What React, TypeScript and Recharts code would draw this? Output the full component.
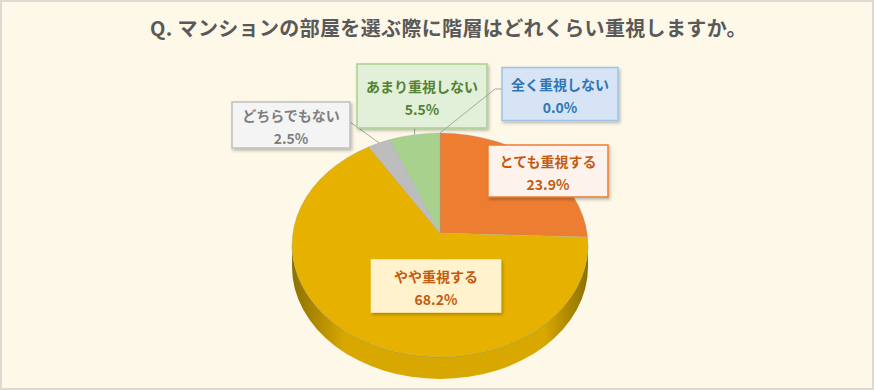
import React from "react";
import { PieChart, Pie } from "recharts";

const TITLE = "Q. マンションの部屋を選ぶ際に階層はどれくらい重視しますか。";
const categories = ["とても重視する", "やや重視する", "どちらでもない", "あまり重視しない", "全く重視しない"];
const shares = [23.9, 68.2, 2.5, 5.5, 0.0];

const data = categories.map((name, i) => ({ name, value: shares[i] }));

// geometry of the tilted pie
const W = 874;
const H = 390;
const CX = 440;
const CY = 245;
const RX = 148;
const RY = 112;
const DEPTH = 22;
const APEX_LIFT = 12;

const topColors = ["#ED7D31", "#E7B100", "#BDBDBD", "#A9D18E", "#5B9BD5"];
const sideEdge = ["#9A4F1C", "#8C7000", "#7A7A7A", "#6E8C5A", "#3B6690"];
const sideMid = ["#D46C26", "#D9A800", "#A8A8A8", "#97BE7C", "#4F8AC0"];

// callout boxes: offset of box centre from the pie centre, size, colours
const boxOffset = [
  [108, -74],
  [-4, 41],
  [-149, -120],
  [-18, -149],
  [120, -151],
];
const boxSize = [
  [120, 52],
  [129, 52],
  [118, 46],
  [130, 64],
  [116, 53],
];
const boxFill = ["#FDF3EC", "#FFF2CC", "#F4F4F4", "#E2F0D9", "#D6E4F5"];
const boxStroke = ["#ED7D31", "#FFF2CC", "#BFBFBF", "#A9D18E", "#9DC3E6"];
const textColor = ["#C55A11", "#C55A11", "#7F7F7F", "#548235", "#2E75B6"];
const hasLeader = [false, false, true, true, true];

const FONT = '"Noto Sans CJK JP", "Noto Sans", sans-serif';

const rad = (a: number) => (a * Math.PI) / 180;
const pt = (cx: number, cy: number, a: number): [number, number] => [
  cx + RX * Math.cos(rad(a)),
  cy - RY * Math.sin(rad(a)),
];

function SliceShape(props: any) {
  const { cx, cy, startAngle, endAngle, index } = props;
  const s = Math.max(startAngle, endAngle);
  const e = Math.min(startAngle, endAngle);
  if (s - e < 0.01) return <g />;
  const parts: React.ReactNode[] = [];

  // side wall for the front half
  const b = Math.min(s, 0);
  const a = Math.max(e, -180);
  if (b > a) {
    const [x1, y1] = pt(cx, cy, b);
    const [x2, y2] = pt(cx, cy, a);
    const d = `M${x1},${y1} A${RX},${RY} 0 0 1 ${x2},${y2} L${x2},${y2 + DEPTH} A${RX},${RY} 0 0 0 ${x1},${y1 + DEPTH} Z`;
    parts.push(<path key="side" d={d} fill={`url(#side${index})`} stroke="none" />);
    parts.push(
      <path
        key="rim"
        d={`M${x1},${y1} A${RX},${RY} 0 0 1 ${x2},${y2}`}
        fill="none"
        stroke={sideEdge[index]}
        strokeOpacity={0.35}
        strokeWidth={1}
      />
    );
  }

  const [sx, sy] = pt(cx, cy, s);
  const [ex, ey] = pt(cx, cy, e);
  const large = s - e > 180 ? 1 : 0;
  const ax = cx;
  const ay = cy - APEX_LIFT;
  parts.push(
    <path
      key="top"
      d={`M${ax},${ay} L${sx},${sy} A${RX},${RY} 0 ${large} 1 ${ex},${ey} Z`}
      fill={topColors[index]}
      stroke="#8FA7BF"
      strokeOpacity={0.45}
      strokeWidth={0.6}
    />
  );
  return <g>{parts}</g>;
}

function Callout(props: any) {
  const { cx, cy, midAngle, index, value, name } = props;
  const [w, h] = boxSize[index];
  const bx = cx + boxOffset[index][0];
  const by = cy + boxOffset[index][1];
  const left = bx - w / 2;
  const right = bx + w / 2;
  const top = by - h / 2;
  const bottom = by + h / 2;

  let leader: React.ReactNode = null;
  if (hasLeader[index]) {
    const [px, py] = pt(cx, cy, midAngle);
    let pts: string;
    if (px > right) {
      pts = `${px},${py} ${right},${by - 3}`;
    } else if (px < left) {
      pts = `${px},${py} ${left - 7},${by - 5} ${left},${by - 5}`;
    } else {
      pts = `${px},${py} ${px},${bottom}`;
    }
    leader = <polyline points={pts} fill="none" stroke="#A6A6A6" strokeWidth={1} />;
  }

  return (
    <g>
      {leader}
      <rect
        x={left}
        y={top}
        width={w}
        height={h}
        fill={boxFill[index]}
        stroke={boxStroke[index]}
        strokeWidth={1.5}
        filter="url(#boxShadow)"
      />
      <text
        x={bx}
        y={by - 10}
        textAnchor="middle"
        dominantBaseline="central"
        fontFamily={FONT}
        fontWeight={700}
        fontSize={14}
        fill={textColor[index]}
      >
        {name}
      </text>
      <text
        x={bx}
        y={by + 13}
        textAnchor="middle"
        dominantBaseline="central"
        fontFamily={FONT}
        fontWeight={700}
        fontSize={14}
        fill={textColor[index]}
      >
        {`${Number(value).toFixed(1)}%`}
      </text>
    </g>
  );
}

export default function App() {
  return (
    <div
      style={{
        position: "absolute",
        left: 0,
        top: 0,
        width: W,
        height: H,
        boxSizing: "border-box",
        border: "2px solid #DEDAD2",
        background: "#FEF8E8",
        overflow: "hidden",
      }}
    >
      <div
        style={{
          position: "absolute",
          left: 0,
          top: 14,
          width: W + 19,
          textAlign: "center",
          fontFamily: FONT,
          fontWeight: 700,
          fontSize: 20,
          letterSpacing: "0.35px",
          lineHeight: "24px",
          color: "#595959",
          whiteSpace: "nowrap",
        }}
      >
        {TITLE}
      </div>
      <div style={{ position: "absolute", left: -2, top: -2 }}>
        <PieChart width={W} height={H} margin={{ top: 0, right: 0, bottom: 0, left: 0 }}>
          <defs>
            {topColors.map((_, i) => (
              <linearGradient
                key={i}
                id={`side${i}`}
                gradientUnits="userSpaceOnUse"
                x1={CX - RX}
                x2={CX + RX}
                y1={0}
                y2={0}
              >
                <stop offset="0%" stopColor={sideEdge[i]} />
                <stop offset="18%" stopColor={sideMid[i]} />
                <stop offset="55%" stopColor={sideMid[i]} />
                <stop offset="85%" stopColor={sideMid[i]} />
                <stop offset="100%" stopColor={sideEdge[i]} />
              </linearGradient>
            ))}
            <filter id="boxShadow" x="-10%" y="-10%" width="130%" height="140%">
              <feDropShadow dx={1.5} dy={2} stdDeviation={1.5} floodColor="#000" floodOpacity={0.25} />
            </filter>
          </defs>
          <Pie
            data={data}
            dataKey="value"
            nameKey="name"
            cx={CX}
            cy={CY}
            outerRadius={RX}
            startAngle={90}
            endAngle={-270}
            fill="none"
            stroke="none"
            label={SliceShape}
            labelLine={false}
            isAnimationActive={false}
          />
          <Pie
            data={data}
            dataKey="value"
            nameKey="name"
            cx={CX}
            cy={CY}
            outerRadius={RX}
            startAngle={90}
            endAngle={-270}
            fill="none"
            stroke="none"
            label={Callout}
            labelLine={false}
            isAnimationActive={false}
          />
        </PieChart>
      </div>
    </div>
  );
}
